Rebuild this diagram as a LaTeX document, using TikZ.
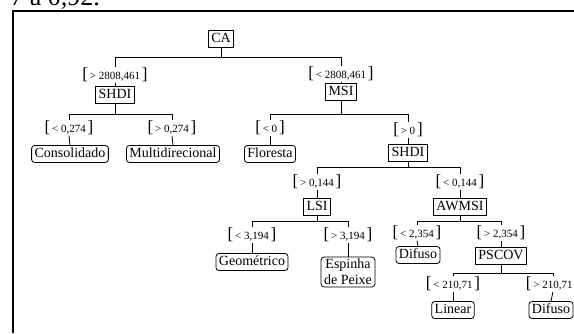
\documentclass[tikz,border=0pt]{standalone}
\usepackage{fontspec}
\setmainfont{Liberation Serif}
\usetikzlibrary{positioning}
\newcommand{\brk}[1]{{\fontsize{17}{17}\selectfont #1}}
\newcommand{\cnd}[1]{\brk{[}\,#1\,\brk{]}}

\begin{document}
\begin{tikzpicture}[x=1pt, y=-1pt,
  attr/.style={draw, line width=0.8pt, font=\fontsize{14}{16}\selectfont, inner xsep=3pt, inner ysep=2pt, text height=10pt, text depth=3pt},
  leaf/.style={attr, rounded corners=3pt},
  cond/.style={font=\fontsize{11}{13}\selectfont, inner sep=0.5pt},
  edge/.style={line width=0.8pt}]
  \useasboundingbox (0,0) rectangle (574,333);

  % page fragment and frame
  \node[anchor=base east, font=\fontsize{26}{30}\selectfont, inner sep=0pt] (caption) at (100,5) {7 a 0,92.};
  \draw[line width=1.5pt] (13,333) -- (13,11) -- (574,11);

  % tree
  \node[attr] (ca) at (221,39) {CA};
  \node[cond] (c1) at (115,75) {\cnd{> 2808,461}};
  \node[attr] (shdiA) at (115,95) {SHDI};
  \node[cond] (c2) at (341,74) {\cnd{< 2808,461}};
  \node[attr] (msi) at (341,92) {MSI};
  \node[cond] (c3) at (69,128) {\cnd{< 0,274}};
  \node[leaf] (consol) at (70,154) {Consolidado};
  \node[cond] (c4) at (172,128) {\cnd{> 0,274}};
  \node[leaf] (multi) at (173,154) {Multidirecional};
  \node[cond] (c5) at (270,128) {\cnd{< 0}};
  \node[leaf] (flor) at (270,154) {Floresta};
  \node[cond] (c6) at (408,130) {\cnd{> 0}};
  \node[attr] (shdiB) at (408,153) {SHDI};
  \node[cond] (c7) at (317,182) {\cnd{> 0,144}};
  \node[attr] (lsi) at (317,207) {LSI};
  \node[cond] (c8) at (460,182) {\cnd{< 0,144}};
  \node[attr] (awmsi) at (460,207) {AWMSI};
  \node[cond] (c9) at (252,235) {\cnd{< 3,194}};
  \node[leaf] (geo) at (252,262) {Geométrico};
  \node[cond] (c10) at (348,235) {\cnd{> 3,194}};
  \node[leaf, align=center, text height=, text depth=] (espinha) at (348,272) {Espinha\\de Peixe};
  \node[cond] (c11) at (417,233) {\cnd{< 2,354}};
  \node[leaf] (difA) at (418,255) {Difuso};
  \node[cond] (c12) at (501,233) {\cnd{> 2,354}};
  \node[attr] (pscov) at (501,256) {PSCOV};
  \node[cond] (c13) at (453,284) {\cnd{< 210,71}};
  \node[leaf] (lin) at (453,310) {Linear};
  \node[cond] (c14) at (553,284) {\cnd{> 210,71}};
  \node[leaf] (difB) at (551,310) {Difuso};

  % connectors
  \draw[edge] (ca.south) -- ++(0,9) -| (c1.north);
  \draw[edge] (ca.south) -- ++(0,9) -| (c2.north);
  \draw[edge] (c1.south) -- (shdiA.north);
  \draw[edge] (c2.south) -- (msi.north);
  \draw[edge] (shdiA.south) -- ++(0,10) -| (c3.north);
  \draw[edge] (shdiA.south) -- ++(0,10) -| (c4.north);
  \draw[edge] (c3.south) -- (consol.north);
  \draw[edge] (c4.south) -- (multi.north);
  \draw[edge] (msi.south) -- ++(0,13) -| (c5.north);
  \draw[edge] (msi.south) -- ++(0,13) -| (c6.north);
  \draw[edge] (c5.south) -- (flor.north);
  \draw[edge] (c6.south) -- (shdiB.north);
  \draw[edge] (shdiB.south) -- ++(0,5) -| (c7.north);
  \draw[edge] (shdiB.south) -- ++(0,5) -| (c8.north);
  \draw[edge] (c7.south) -- (lsi.north);
  \draw[edge] (c8.south) -- (awmsi.north);
  \draw[edge] (lsi.south) -- ++(0,5) -| (c9.north);
  \draw[edge] (lsi.south) -- ++(0,5) -| (c10.north);
  \draw[edge] (c9.south) -- (geo.north);
  \draw[edge] (c10.south) -- (espinha.north);
  \draw[edge] (awmsi.south) -- ++(0,5) -| (c11.north);
  \draw[edge] (awmsi.south) -- ++(0,5) -| (c12.north);
  \draw[edge] (c11.south) -- (difA.north);
  \draw[edge] (c12.south) -- (pscov.north);
  \draw[edge] (pscov.south) -- ++(0,8) -| (c13.north);
  \draw[edge] (pscov.south) -- ++(0,8) -| (c14.north);
  \draw[edge] (c13.south) -- (lin.north);
  \draw[edge] (c14.south) -- (difB.north);
\end{tikzpicture}
\end{document}
